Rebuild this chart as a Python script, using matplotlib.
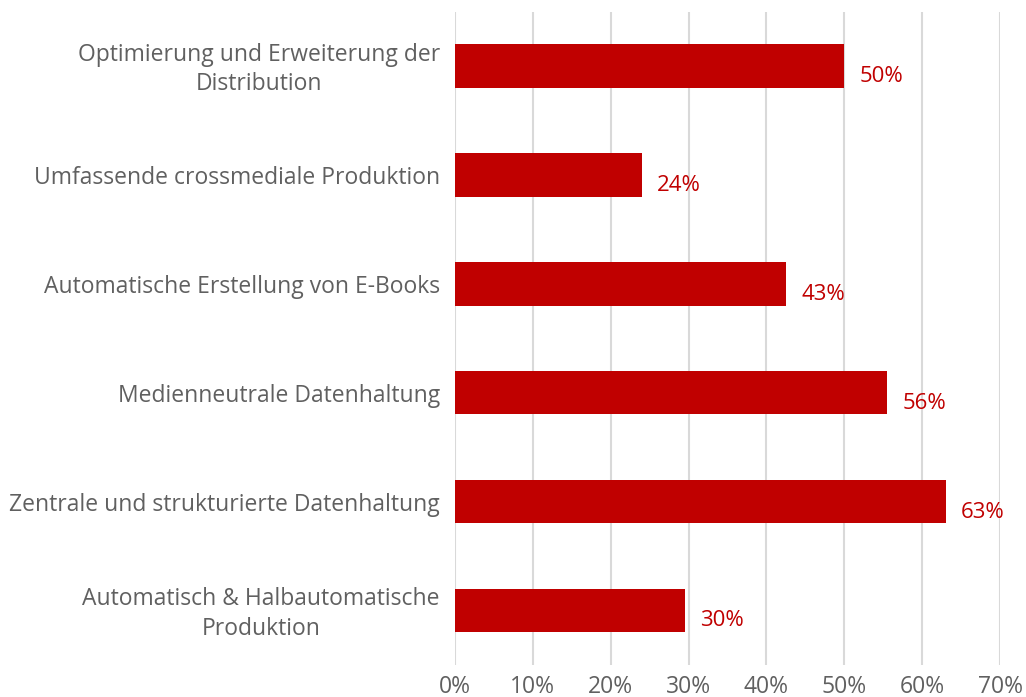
import matplotlib
matplotlib.use("Agg")
import matplotlib.pyplot as plt
from matplotlib.ticker import FuncFormatter

# categories from top to bottom
categories = [
    "Optimierung und Erweiterung der\nDistribution",
    "Umfassende crossmediale Produktion",
    "Automatische Erstellung von E-Books",
    "Medienneutrale Datenhaltung",
    "Zentrale und strukturierte Datenhaltung",
    "Automatisch & Halbautomatische\nProduktion",
]
values = [0.50, 0.24, 0.425, 0.555, 0.63, 0.295]
value_labels = ["50%", "24%", "43%", "56%", "63%", "30%"]
x_ticks = [0.0, 0.1, 0.2, 0.3, 0.4, 0.5, 0.6, 0.7]

bar_color = "#C00000"
text_gray = "#606060"

plt.rcParams["font.family"] = ["Open Sans", "DejaVu Sans"]

fig = plt.figure(figsize=(10.26, 6.97), dpi=100)
ax = fig.add_axes([0.4435, 0.0459, 0.5312, 0.9376])

# reverse so first category is at top
pos = list(range(len(categories)))[::-1]
ax.barh(pos, values, height=0.4, color=bar_color, zorder=3)

for p, v, lab in zip(pos, values, value_labels):
    ax.annotate(lab, (v, p), xytext=(11, -7.5), textcoords="offset points",
                ha="left", va="center", color=bar_color, fontsize=16)

# category labels, placed by hand so they can sit slightly low like the original
for p, cat in zip(pos, categories):
    ax.annotate(cat, (0, p), xycoords=("axes fraction", "data"),
                xytext=(-11, -2.5), textcoords="offset points",
                ha="right", va="center", multialignment="center",
                linespacing=1.3, fontsize=16.5, color=text_gray)

ax.set_xlim(0, 0.7)
ax.set_ylim(-0.5, len(categories) - 0.5)
ax.set_xticks(x_ticks)
ax.xaxis.set_major_formatter(FuncFormatter(lambda x, _: f"{x * 100:.0f}%"))
ax.set_yticks([])

ax.grid(axis="x", color="#D9D9D9", linewidth=1.5, zorder=0)
for s in ax.spines.values():
    s.set_visible(False)
ax.tick_params(axis="x", length=0, labelsize=16.5, labelcolor=text_gray, pad=7)

fig.savefig("out.png", dpi=100)
